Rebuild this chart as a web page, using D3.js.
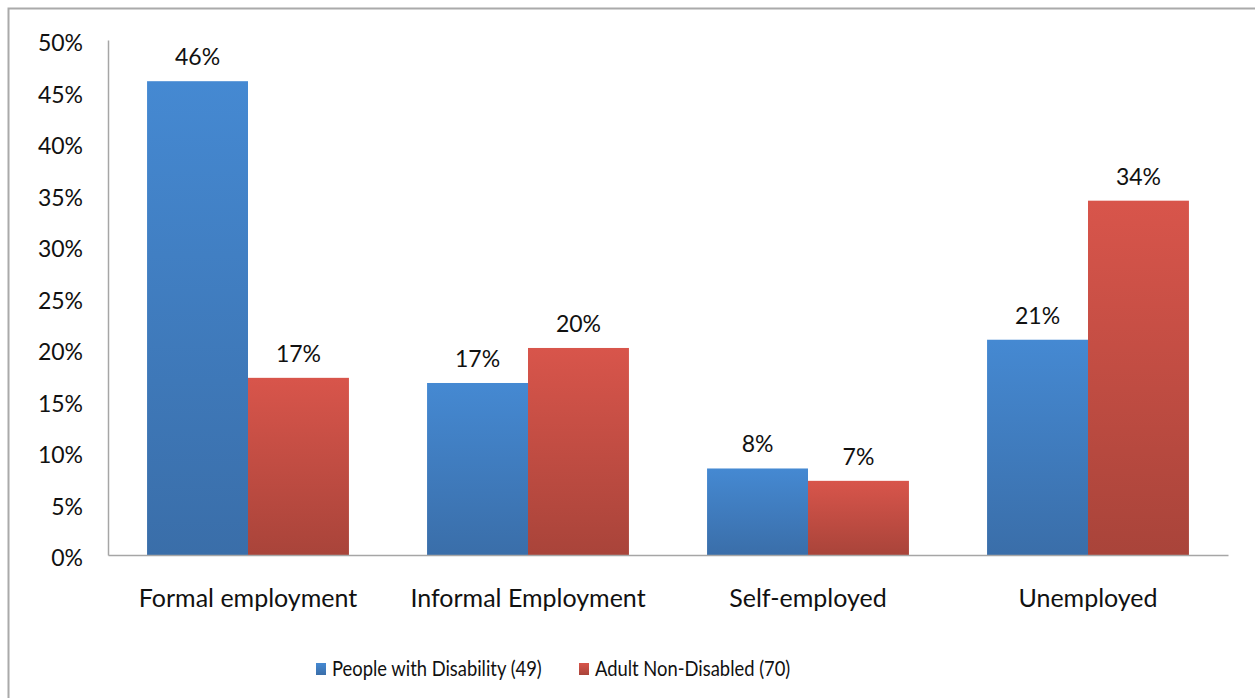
<!DOCTYPE html>
<html>

<head>
    <meta charset="utf-8">
    <style>
        body {
            margin: 0;
            background: #fff;
            font-family: Lato, 'Open Sans', sans-serif;
        }

        svg {
            display: block;
        }

        .y .tick line {
            display: none;
        }

        .y .domain,
        .x .domain {
            stroke: #a6a6a6;
            stroke-width: 1.5px;
        }

        .x .tick line {
            display: none;
        }

        .y .tick text {
            font-family: Lato, 'Open Sans', sans-serif;
            font-size: 23px;
            fill: #111;
        }

        .x .tick text {
            font-family: Lato, 'Open Sans', sans-serif;
            font-size: 25px;
            fill: #111;
        }
    </style>
</head>

<body>
    <svg width="1255" height="698"></svg>
</body>

<script src="https://cdn.jsdelivr.net/npm/d3@7"></script>

<script>
    // data
    let categories = ["Formal employment", "Informal Employment", "Self-employed", "Unemployed"]
    let seriesNames = ["People with Disability (49)", "Adult Non-Disabled (70)"]
    let disabled = [46, 16.7, 8.4, 20.9]
    let nonDisabled = [17.2, 20.1, 7.2, 34.4]
    let yTicks = [0, 5, 10, 15, 20, 25, 30, 35, 40, 45, 50]

    let colors = ["#4589d2", "#d8554b"]
    let colorsDark = ["#3a6ea9", "#a9443a"]

    let svg = d3.select("svg")

    // outer frame
    svg.append("rect")
        .attr("x", 8.5)
        .attr("y", 8.5)
        .attr("width", 1260)
        .attr("height", 700)
        .attr("fill", "none")
        .attr("stroke", "#aaaaaa")
        .attr("stroke-width", 2)

    let margin = { top: 40, right: 27, bottom: 143, left: 108 }
    let width = 1255
    let height = 698

    let x = d3.scaleBand()
        .domain(categories)
        .range([margin.left, width - margin.right])
        .paddingInner(0.279)
        .paddingOuter(0.1395)

    let x1 = d3.scaleBand()
        .domain([0, 1])
        .range([0, x.bandwidth()])

    let y = d3.scaleLinear()
        .domain([0, 50])
        .range([height - margin.bottom, margin.top])

    // gradients for the bars
    let defs = svg.append("defs")
    colors.forEach(function (c, i) {
        let g = defs.append("linearGradient")
            .attr("id", "grad" + i)
            .attr("x1", 0).attr("y1", 0)
            .attr("x2", 0).attr("y2", 1)
        g.append("stop").attr("offset", "0%").attr("stop-color", c)
        g.append("stop").attr("offset", "100%").attr("stop-color", colorsDark[i])
    })

    let yAxis = d3.axisLeft(y)
        .tickValues(yTicks)
        .tickSize(0)
        .tickPadding(25)
        .tickFormat(d => d + "%")

    svg.append("g")
        .attr("class", "y axis")
        .attr("transform", `translate(${margin.left},0)`)
        .call(yAxis)
        .selectAll(".tick text")
        .attr("dy", "0.47em")

    let rows = categories.map(function (c, i) {
        return { cat: c, values: [disabled[i], nonDisabled[i]] }
    })

    let groups = svg.append("g")
        .selectAll("g")
        .data(rows)
        .join("g")
        .attr("transform", d => `translate(${x(d.cat)},0)`)

    groups.selectAll("rect")
        .data(d => d.values.map((v, i) => ({ v: v, i: i })))
        .join("rect")
        .attr("x", d => x1(d.i))
        .attr("y", d => y(d.v))
        .attr("width", x1.bandwidth())
        .attr("height", d => y(0) - y(d.v))
        .attr("fill", d => "url(#grad" + d.i + ")")

    groups.selectAll("text")
        .data(d => d.values.map((v, i) => ({ v: v, i: i })))
        .join("text")
        .attr("x", d => x1(d.i) + x1.bandwidth() / 2)
        .attr("y", d => y(d.v) - 16)
        .attr("text-anchor", "middle")
        .attr("font-size", 23)
        .attr("fill", "#111")
        .text(d => Math.round(d.v) + "%")

    let xAxis = d3.axisBottom(x)
        .tickSize(0)
        .tickPadding(34)

    svg.append("g")
        .attr("class", "x axis")
        .attr("transform", `translate(0,${y(0)})`)
        .call(xAxis)

    // legend
    let legendX = [316, 579]
    let legend = svg.append("g")
        .selectAll("g")
        .data(seriesNames)
        .join("g")
        .attr("transform", (d, i) => `translate(${legendX[i]},663)`)

    legend.append("rect")
        .attr("width", 10)
        .attr("height", 12)
        .attr("fill", (d, i) => "url(#grad" + i + ")")

    // the legend text is narrow and tall in the picture
    legend.append("text")
        .attr("transform", "translate(16,6) scale(0.875,1)")
        .attr("dy", "0.35em")
        .attr("font-size", 21)
        .attr("fill", "#111")
        .text(d => d)
</script>

</html>
